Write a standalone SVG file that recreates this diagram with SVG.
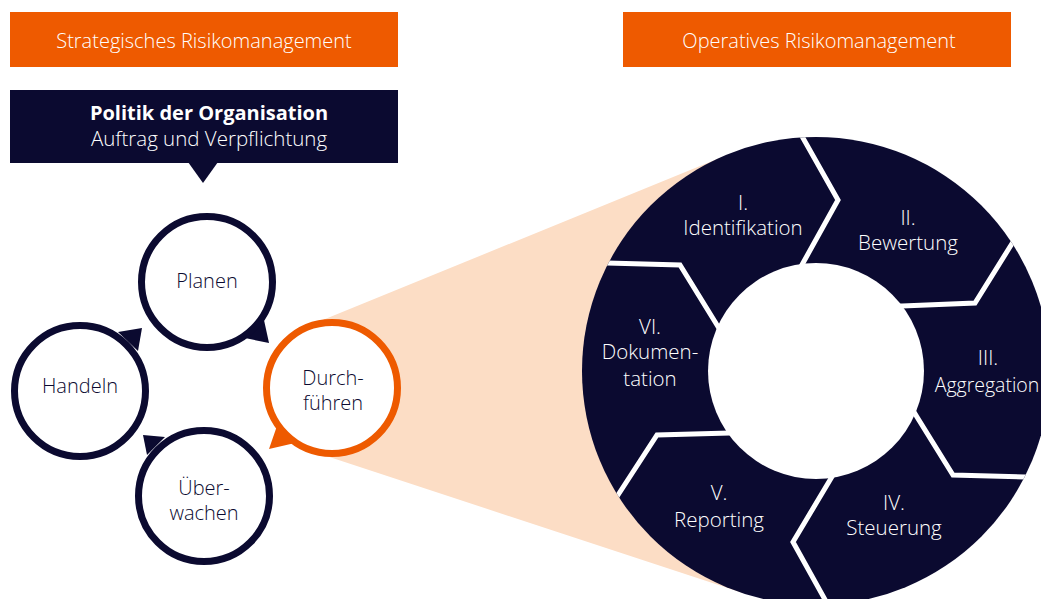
<svg xmlns="http://www.w3.org/2000/svg" width="1041" height="599" viewBox="0 0 1041 599">
<style>
.hdr{fill:#EE5A00}
.hdrt{fill:#ffffff;font-family:"Open Sans","Noto Sans",sans-serif;font-weight:300;font-size:20px;text-anchor:middle}
.navy{fill:#0B0A30}
.wt{fill:#ffffff;font-family:"Open Sans","Noto Sans",sans-serif;font-weight:300;font-size:20.5px;text-anchor:middle}
.ring{fill:#ffffff;stroke:#0B0A30;stroke-width:7}
.ringo{fill:#ffffff;stroke:#EE5A00;stroke-width:7}
.ct{fill:#0B0A30;font-family:"Open Sans","Noto Sans",sans-serif;font-weight:300;font-size:20px;text-anchor:middle}
.gap{fill:none;stroke:#ffffff;stroke-width:5;stroke-linejoin:miter}
</style>
<defs>
<clipPath id="outer"><circle cx="816" cy="371" r="234"/></clipPath>
</defs>
<rect width="1041" height="599" fill="#ffffff"/>

<g id="header-strategisch">
<rect class="hdr" x="10" y="12" width="388" height="55"/>
<text class="hdrt" x="204" y="48">Strategisches Risikomanagement</text>
</g>
<g id="header-operativ">
<rect class="hdr" x="623" y="12" width="388" height="55"/>
<text class="hdrt" x="819" y="48">Operatives Risikomanagement</text>
</g>

<g id="politik">
<rect class="navy" x="10" y="90" width="388" height="73"/>
<polygon class="navy" points="188,162 218,162 203,183"/>
<text class="wt" x="209" y="120"><tspan style="font-weight:700;font-size:20px">Politik der Organisation</tspan><tspan x="209" y="146">Auftrag und Verpflichtung</tspan></text>
</g>

<g id="wedge">
<polygon fill="#FCDDC5" points="306.8,326.5 727.6,154.8 816,371 742.9,593 311.2,451 332,388"/>
</g>

<g id="connectors">
<polygon class="navy" points="245,338 264,320 269,343"/>
<polygon class="navy" points="118,332 142,328 138,351"/>
<polygon class="navy" points="143,435 165,437 147,455"/>
<polygon fill="#EE5A00" points="269,449 278,423 295,443"/>
</g>

<g id="planen">
<circle class="ring" cx="207" cy="282" r="65.5"/>
<text class="ct" x="207" y="288">Planen</text>
</g>
<g id="handeln">
<circle class="ring" cx="80" cy="391" r="65.5"/>
<text class="ct" x="80" y="393">Handeln</text>
</g>
<g id="durchfuehren">
<circle class="ringo" cx="332" cy="388" r="65.5"/>
<text class="ct" x="333" y="385">Durch-<tspan x="333" y="410">führen</tspan></text>
</g>
<g id="ueberwachen">
<circle class="ring" cx="204" cy="496" r="65.5"/>
<text class="ct" x="204" y="495">Über-<tspan x="204" y="520">wachen</tspan></text>
</g>

<g id="prozess-ring">
<circle class="navy" cx="816" cy="371" r="234"/>
<g clip-path="url(#outer)">
<polyline class="gap" points="797,274 803,263 838,200 803,138 797,127"/>
<polyline class="gap" points="890,306 902,306 975,303 1013,242 1020,231"/>
<polyline class="gap" points="911,407 917,417 953,475 1025,477 1040,477"/>
<polyline class="gap" points="836,470 830,480 793,542 828,605 832,612"/>
<polyline class="gap" points="742,433 730,433 657,435 618,495 611,506"/>
<polyline class="gap" points="723,335 717,325 680,265 607,263 595,263"/>
</g>
<circle fill="#ffffff" cx="816" cy="371" r="108"/>
</g>

<g id="schritt-1">
<text class="wt" x="743" y="210">I.<tspan x="743" y="235">Identifikation</tspan></text>
</g>
<g id="schritt-2">
<text class="wt" x="908" y="225">II.<tspan x="908" y="250">Bewertung</tspan></text>
</g>
<g id="schritt-3">
<text class="wt" x="988" y="365">III.<tspan x="987" y="392" style="font-size:19.5px">Aggregation</tspan></text>
</g>
<g id="schritt-4">
<text class="wt" x="894" y="510">IV.<tspan x="894" y="535">Steuerung</tspan></text>
</g>
<g id="schritt-5">
<text class="wt" x="719" y="500">V.<tspan x="719" y="527">Reporting</tspan></text>
</g>
<g id="schritt-6">
<text class="wt" x="650" y="334">VI.<tspan x="650" y="359">Dokumen-</tspan><tspan x="650" y="386">tation</tspan></text>
</g>
</svg>
